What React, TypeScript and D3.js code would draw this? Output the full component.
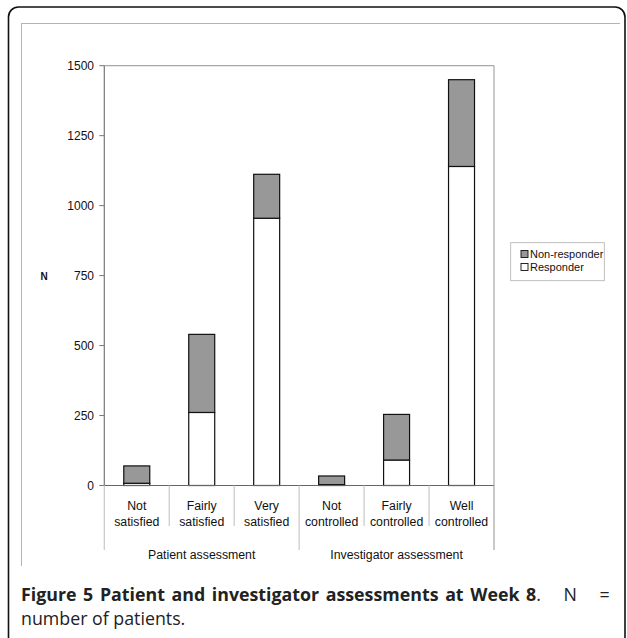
import React from "react";
import * as d3 from "d3";

const categories = ["Not satisfied", "Fairly satisfied", "Very satisfied", "Not controlled", "Fairly controlled", "Well controlled"];
const catLines = [["Not", "satisfied"], ["Fairly", "satisfied"], ["Very", "satisfied"], ["Not", "controlled"], ["Fairly", "controlled"], ["Well", "controlled"]];
const groups = ["Patient assessment", "Investigator assessment"];
const responder = [8, 261, 955, 3, 91, 1140];
const nonResponder = [62, 279, 157, 31, 163, 310];
const yTicks = [0, 250, 500, 750, 1000, 1250, 1500];
const seriesNames = ["Non-responder", "Responder"];

const W = 627, H = 638;
const left = 104.3, right = 494, top = 65.7, bottom = 485.5;
const FONT = "'Liberation Sans', Arial, sans-serif";

export default function App() {
  const y = d3.scaleLinear().domain([0, 1500]).range([bottom, top]);
  const x = d3.scaleBand<string>().domain(categories).range([left, right]).paddingInner(0.6).paddingOuter(0.3);
  const step = x.step();
  const bounds = d3.range(categories.length + 1).map((i) => left + i * step);
  const stack = d3.stack<any>().keys(["r", "n"])(categories.map((c, i) => ({ c, r: responder[i], n: nonResponder[i] })));

  return (
    <svg width={W} height={H} style={{ position: "absolute", left: 0, top: 0, background: "#fff" }}>
      {/* outer rounded border */}
      <rect x={8.5} y={7} width={616.5} height={640} rx={10} ry={10} fill="#fff" stroke="#111" strokeWidth={1.6} />
      {/* inner figure frame */}
      <line x1={21} x2={620} y1={23.5} y2={23.5} stroke="#b4b4b4" strokeWidth={1} />
      <line x1={21.5} x2={21.5} y1={23} y2={566} stroke="#b4b4b4" strokeWidth={1} />

      {/* plot frame */}
      <line x1={left} x2={right} y1={top} y2={top} stroke="#a8a8a8" strokeWidth={1.2} />
      <line x1={right} x2={right} y1={top} y2={550} stroke="#a8a8a8" strokeWidth={1.2} />

      {/* bars */}
      {stack.map((layer, li) =>
        layer.map((d, i) => (
          <rect
            key={li + "-" + i}
            x={x(categories[i])!}
            y={y(d[1])}
            width={x.bandwidth()}
            height={y(d[0]) - y(d[1])}
            fill={li === 0 ? "#ffffff" : "#989898"}
            stroke="#111"
            strokeWidth={1.2}
          />
        ))
      )}

      {/* y axis */}
      <line x1={left} x2={left} y1={top} y2={bottom} stroke="#777" strokeWidth={1.2} />
      {yTicks.map((t) => (
        <g key={t}>
          <line x1={left - 5} x2={left} y1={y(t)} y2={y(t)} stroke="#777" strokeWidth={1} />
          <text x={94} y={y(t)} dy="0.36em" textAnchor="end" fontFamily={FONT} fontSize={12} fill="#111">
            {t}
          </text>
        </g>
      ))}
      <text x={44} y={276} dy="0.35em" textAnchor="middle" fontFamily={FONT} fontSize={10} fontWeight="bold" fill="#111">
        N
      </text>

      {/* x axis */}
      <line x1={left} x2={right} y1={bottom} y2={bottom} stroke="#666" strokeWidth={1.2} />
      {bounds.map((bx, i) => {
        const isGroup = i % 3 === 0;
        return (
          <line key={i} x1={bx} x2={bx} y1={bottom} y2={isGroup ? 550 : 526} stroke="#c8c8c8" strokeWidth={1.2} />
        );
      })}
      {categories.map((c, i) => (
        <text key={c} x={x(c)! + x.bandwidth() / 2} textAnchor="middle" fontFamily={FONT} fontSize={12.3} fill="#111">
          <tspan x={x(c)! + x.bandwidth() / 2} y={509.5}>{catLines[i][0]}</tspan>
          <tspan x={x(c)! + x.bandwidth() / 2} y={525.5}>{catLines[i][1]}</tspan>
        </text>
      ))}
      {groups.map((g, gi) => (
        <text key={g} x={(bounds[gi * 3] + bounds[gi * 3 + 3]) / 2} y={558.5} textAnchor="middle" fontFamily={FONT} fontSize={12.3} fill="#111">
          {g}
        </text>
      ))}

      {/* legend */}
      <rect x={510.7} y={242.7} width={93.6} height={38} fill="#fff" stroke="#b0b0b0" strokeWidth={0.8} />
      {seriesNames.map((s, i) => (
        <g key={s}>
          <rect x={521} y={250.5 + i * 13} width={7} height={7} fill={i === 0 ? "#989898" : "#fff"} stroke="#111" strokeWidth={0.9} />
          <text x={530} y={257.5 + i * 13} fontFamily={FONT} fontSize={11} fill="#111">
            {s}
          </text>
        </g>
      ))}

      {/* caption */}
      <text x={21} y={601} fontFamily="'Open Sans', sans-serif" fontSize={17.8} fill="#222" wordSpacing={2}>
        <tspan fontWeight="bold">Figure 5 Patient and investigator assessments at Week 8</tspan>
        <tspan wordSpacing={18}>. N =</tspan>
      </text>
      <text x={21} y={625} fontFamily="'Open Sans', sans-serif" fontSize={17.8} fill="#222">
        number of patients.
      </text>
    </svg>
  );
}
